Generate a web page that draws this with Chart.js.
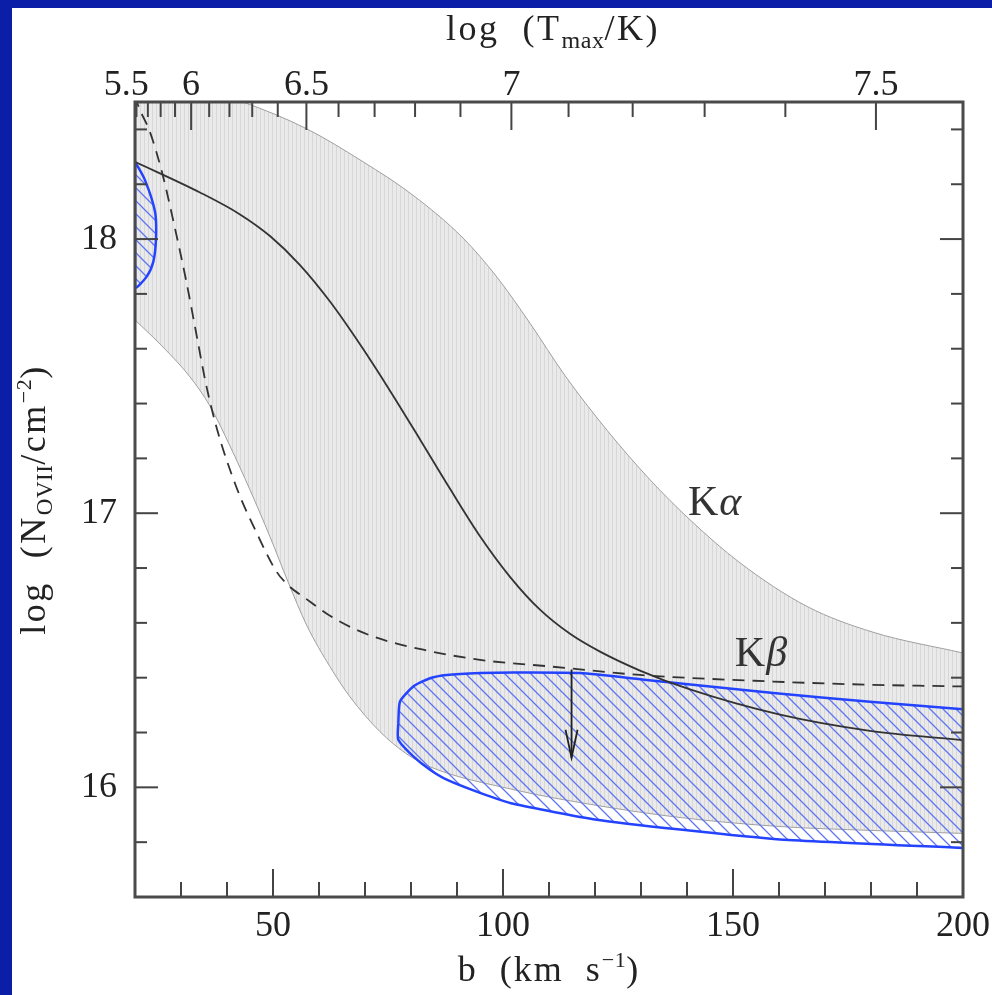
<!DOCTYPE html>
<html>
<head>
<meta charset="utf-8">
<title>O VII column density vs b</title>
<script src="https://cdn.jsdelivr.net/npm/chart.js@4.4.1/dist/chart.umd.min.js"></script>
<style>
  html, body { margin: 0; padding: 0; background: #0b1ea8; overflow: hidden; }
  canvas { display: block; }
</style>
</head>
<body>
<canvas id="nChart" width="992" height="995"></canvas>
<script>
// ---- values: b in km/s, N as log(N/cm^-2) ----
const kaUpperB = [20, 30, 43.48, 57.11, 69.57, 80.43, 91.3, 98.7, 105.87, 113.48, 122.6, 131.96, 140.65, 151.52, 166.09, 180.43, 200];
const kaUpperN = [18.62, 18.57, 18.50, 18.404, 18.282, 18.16, 18.004, 17.861, 17.693, 17.502, 17.303, 17.122, 16.976, 16.819, 16.66, 16.566, 16.49];

const kaLowerB = [20, 26.09, 31.96, 36.3, 40.65, 45.0, 49.35, 53.26, 57.39, 62.39, 66.74, 73.26, 78.7, 84.13, 102.17, 120.43, 138.48, 160.22, 179.78, 200];
const kaLowerN = [17.705, 17.606, 17.497, 17.391, 17.245, 17.085, 16.914, 16.75, 16.589, 16.44, 16.33, 16.203, 16.126, 16.075, 15.992, 15.934, 15.89, 15.857, 15.843, 15.832];

const kaBestB = [20, 34.13, 42.83, 49.35, 55.87, 62.39, 68.91, 75.43, 81.96, 88.48, 95.0, 101.52, 108.04, 114.57, 121.09, 129.78, 140.65, 160.22, 179.78, 200];
const kaBestN = [18.282, 18.170, 18.090, 18.011, 17.905, 17.772, 17.616, 17.447, 17.269, 17.089, 16.916, 16.768, 16.648, 16.560, 16.495, 16.426, 16.357, 16.265, 16.206, 16.172];

const kbBestB = [20, 20.65, 23.26, 25.87, 28.48, 31.09, 33.26, 35.43, 37.76, 42.11, 46.46, 50.8, 53.7, 56.59, 63.85, 71.8, 82.67, 95.0, 110.22, 129.78, 158.7, 180.43, 200];
const kbBestN = [18.525, 18.489, 18.39, 18.244, 18.055, 17.851, 17.661, 17.471, 17.311, 17.092, 16.928, 16.786, 16.731, 16.695, 16.611, 16.55, 16.502, 16.465, 16.441, 16.41, 16.386, 16.374, 16.368];

// closed contours (blue hatched regions)
const lowBRegionB = [20, 22.17, 24.35, 24.57, 23.98, 22.54, 20, 20];
const lowBRegionN = [18.282, 18.215, 18.1, 18.003, 17.917, 17.863, 17.826, 18.282];

const highBRegionB = [77.24, 77.61, 80.5, 84.13, 87.76, 95.0, 102.24, 116.74, 131.2, 158.76, 179.78, 200, 205, 205, 200, 160.2, 138.5, 120.4, 102.24, 95.0, 87.76, 84.13, 80.5, 77.24, 77.24];
const highBRegionN = [16.234, 16.313, 16.368, 16.398, 16.41, 16.417, 16.419, 16.417, 16.392, 16.344, 16.312, 16.285, 16.279, 15.776, 15.779, 15.81, 15.846, 15.882, 15.94, 15.98, 16.028, 16.064, 16.113, 16.174, 16.234];

// upper limit arrow
const limitB = [114.9, 114.9];
const limitN = [16.43, 16.108];

// ticks
const bTickValues = [50, 100, 150, 200];
const nTickValues = [16, 17, 18];
const logTLabels = [5.5, 6, 6.5, 7, 7.5];

// line labels
const lineLabels = ['α', 'β'];
const lineLabelB = [140.2, 150.4];
const lineLabelN = [16.994, 16.443];

// thermal width of oxygen: b = sqrt(2kT/m)
const thermalB = logT => 0.0322 * Math.sqrt(Math.pow(10, logT));

const SERIF = '"Liberation Serif", "Times New Roman", serif';
const pts = (xs, ys) => xs.map((x, i) => ({ x, y: ys[i] }));

function makePattern(size, paint) {
  const c = document.createElement('canvas');
  c.width = size; c.height = size;
  const g = c.getContext('2d');
  paint(g, size);
  return g.createPattern(c, 'repeat');
}

const stripes = makePattern(4, (g, s) => {
  g.fillStyle = '#eaeaea'; g.fillRect(0, 0, s, s);
  g.fillStyle = '#d7d7d7'; g.fillRect(0, 0, 1, s);
});

const hatch = makePattern(13, (g, s) => {
  g.strokeStyle = '#5f74f2';
  g.lineWidth = 1.3;
  g.beginPath();
  g.moveTo(-2, -2); g.lineTo(s + 2, s + 2);
  g.moveTo(-2, s - 2); g.lineTo(2, s + 2);
  g.moveTo(s - 2, -2); g.lineTo(s + 2, 2);
  g.stroke();
});

function richText(ctx, parts, cx, baseY, spacing) {
  ctx.save();
  ctx.textAlign = 'left';
  ctx.textBaseline = 'alphabetic';
  let total = 0;
  const widths = parts.map(p => {
    ctx.letterSpacing = (p[1] > 30 ? spacing : 0.5) + 'px';
    ctx.font = p[1] + 'px ' + SERIF;
    const w = ctx.measureText(p[0]).width;
    total += w;
    return w;
  });
  let px = cx - total / 2;
  parts.forEach((p, i) => {
    ctx.letterSpacing = (p[1] > 30 ? spacing : 0.5) + 'px';
    ctx.font = p[1] + 'px ' + SERIF;
    ctx.fillText(p[0], px, baseY + p[2]);
    px += widths[i];
  });
  ctx.restore();
}

const axesDecor = {
  id: 'axesDecor',
  beforeDraw(chart) {
    const { ctx, width, height } = chart;
    ctx.save();
    ctx.fillStyle = '#0b1ea8';
    ctx.fillRect(0, 0, width, height);
    ctx.fillStyle = '#ffffff';
    ctx.fillRect(12, 8, width - 12, height - 8);
    ctx.restore();
  },
  afterDatasetsDraw(chart) {
    const { ctx, chartArea: a, scales: { x, y } } = chart;
    ctx.save();
    const seg = (x1, y1, x2, y2) => { ctx.beginPath(); ctx.moveTo(x1, y1); ctx.lineTo(x2, y2); ctx.stroke(); };

    // arrow head of the upper limit
    const ax = x.getPixelForValue(limitB[1]);
    const ay = y.getPixelForValue(limitN[1]);
    ctx.strokeStyle = '#222';
    ctx.lineWidth = 1.8;
    ctx.beginPath();
    ctx.moveTo(ax - 6, ay - 28); ctx.lineTo(ax, ay); ctx.lineTo(ax + 6, ay - 28);
    ctx.stroke();

    // K alpha / K beta
    ctx.fillStyle = '#333';
    ctx.textBaseline = 'alphabetic';
    lineLabels.forEach((g, i) => {
      const lx = x.getPixelForValue(lineLabelB[i]);
      const ly = y.getPixelForValue(lineLabelN[i]);
      ctx.font = '42px ' + SERIF;
      ctx.fillText('K', lx, ly);
      const kw = ctx.measureText('K').width;
      ctx.font = 'italic 42px ' + SERIF;
      ctx.fillText(g, lx + kw + 1, ly);
    });

    // inward ticks
    ctx.strokeStyle = '#444';
    ctx.lineWidth = 2;
    for (let v = 30; v < 200; v += 10) {
      const px = x.getPixelForValue(v);
      seg(px, a.bottom, px, a.bottom - (bTickValues.includes(v) ? 28 : 15));
    }
    for (let k = 56; k <= 76; k++) {
      const b = thermalB(k / 10);
      if (b <= 20 || b >= 200) continue;
      const px = x.getPixelForValue(b);
      seg(px, a.top, px, a.top + (k % 5 === 0 ? 28 : 15));
    }
    for (let k = 79; k <= 92; k++) {
      const py = y.getPixelForValue(k / 5);
      const len = k % 5 === 0 ? 23 : 12;
      seg(a.left, py, a.left + len, py);
      seg(a.right, py, a.right - len, py);
    }

    // frame
    ctx.strokeStyle = '#4a4a4a';
    ctx.lineWidth = 3;
    ctx.strokeRect(a.left, a.top, a.right - a.left, a.bottom - a.top);

    // top axis labels: log T_max
    ctx.fillStyle = '#222';
    ctx.font = '36px ' + SERIF;
    ctx.textAlign = 'center';
    logTLabels.forEach(t => {
      ctx.fillText(String(t), x.getPixelForValue(thermalB(t)), 95);
    });
    ctx.restore();
  },
  afterDraw(chart) {
    const { ctx, chartArea: a } = chart;
    const cx = (a.left + a.right) / 2;
    ctx.save();
    ctx.fillStyle = '#222';
    richText(ctx, [['log  (T', 36, 0], ['max', 24, 8], ['/K)', 36, 0]], cx + 4, 40, 2.5);
    richText(ctx, [['b  (km  s', 36, 0], ['−1', 22, -14], [')', 36, 0]], cx, 981, 2);
    ctx.translate(45, (a.top + a.bottom) / 2);
    ctx.rotate(-Math.PI / 2);
    richText(ctx, [['log  (N', 36, 0], ['OVII', 23, 7], ['/cm', 36, 0], ['−2', 22, -14], [')', 36, 0]], 0, 0, 2.5);
    ctx.restore();
  }
};

const tickFont = { family: SERIF, size: 36 };

new Chart(document.getElementById('nChart'), {
  type: 'line',
  data: {
    datasets: [
      { label: 'Ka range top', data: pts(kaUpperB, kaUpperN), borderColor: '#a0a0a0', borderWidth: 1,
        backgroundColor: stripes, fill: '+1', cubicInterpolationMode: 'monotone', order: 10 },
      { label: 'Ka range bottom', data: pts(kaLowerB, kaLowerN), borderColor: '#a0a0a0', borderWidth: 1,
        fill: false, cubicInterpolationMode: 'monotone', order: 9 },
      { label: 'low b region', data: pts(lowBRegionB, lowBRegionN), borderColor: '#2443ff', borderWidth: 2.5,
        backgroundColor: hatch, fill: 'shape', tension: 0.3, order: 5 },
      { label: 'high b region', data: pts(highBRegionB, highBRegionN), borderColor: '#2443ff', borderWidth: 2.5,
        backgroundColor: hatch, fill: 'shape', tension: 0.2, order: 4 },
      { label: 'Ka', data: pts(kaBestB, kaBestN), borderColor: '#333', borderWidth: 1.8,
        fill: false, cubicInterpolationMode: 'monotone', order: 2 },
      { label: 'Kb', data: pts(kbBestB, kbBestN), borderColor: '#333', borderWidth: 1.8, borderDash: [12, 8],
        fill: false, cubicInterpolationMode: 'monotone', order: 1 },
      { label: 'limit', data: pts(limitB, limitN), borderColor: '#222', borderWidth: 1.8, fill: false, order: 0 }
    ]
  },
  options: {
    responsive: false,
    animation: false,
    events: [],
    layout: { padding: { left: 0, top: 102, right: 29, bottom: 0 } },
    elements: { point: { radius: 0 } },
    plugins: { legend: { display: false }, tooltip: { enabled: false } },
    scales: {
      x: {
        type: 'linear', min: 20, max: 200,
        grid: { display: false, drawTicks: false },
        border: { display: false },
        ticks: { font: tickFont, color: '#222', padding: 8, maxRotation: 0, callback: v => String(v) },
        afterBuildTicks: s => { s.ticks = bTickValues.map(v => ({ value: v })); },
        afterFit: s => { s.height = 98; s.paddingLeft = 0; s.paddingRight = 0; }
      },
      y: {
        type: 'linear', min: 15.6, max: 18.5,
        grid: { display: false, drawTicks: false },
        border: { display: false },
        ticks: { font: tickFont, color: '#222', padding: 18, callback: v => String(v) },
        afterBuildTicks: s => { s.ticks = nTickValues.map(v => ({ value: v })); },
        afterFit: s => { s.width = 135; s.paddingTop = 0; s.paddingBottom = 0; }
      }
    }
  },
  plugins: [axesDecor]
});
</script>
</body>
</html>
